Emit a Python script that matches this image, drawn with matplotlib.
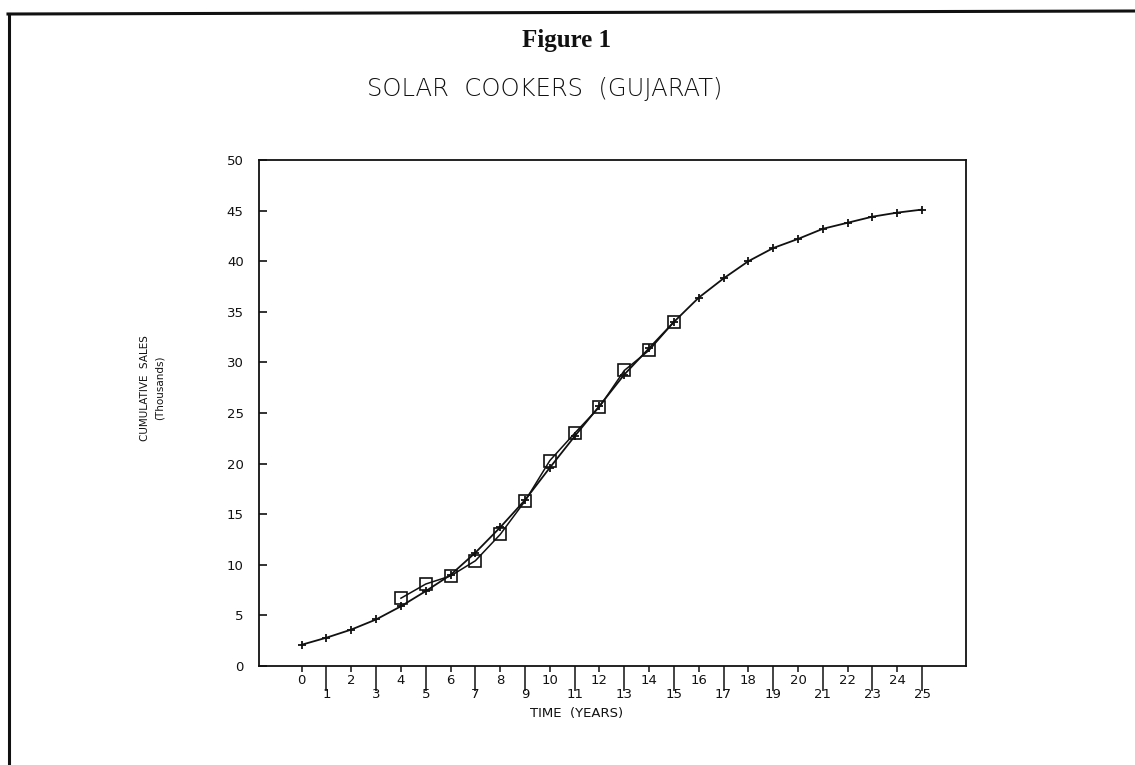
import matplotlib
matplotlib.use('Agg')
import matplotlib.pyplot as plt
from matplotlib.lines import Line2D

# ── DATA ─────────────────────────────────────────────────────────────────────
years_fit = list(range(0, 26))
sales_fit = [2.1, 2.8, 3.6, 4.6, 5.9, 7.4, 9.0, 11.2, 13.7, 16.4, 19.6, 22.7,
             25.7, 28.8, 31.4, 34.0, 36.4, 38.3, 40.0, 41.3, 42.2, 43.2, 43.8,
             44.4, 44.8, 45.1]

years_obs = list(range(4, 16))
sales_obs = [6.7, 8.1, 8.9, 10.4, 13.0, 16.3, 20.3, 23.0, 25.6, 29.2, 31.2, 34.0]

even_ticks = list(range(0, 26, 2))
odd_ticks = list(range(1, 26, 2))
y_ticks = list(range(0, 51, 5))

C_INK = "#111111"

plt.rcParams.update({
    "font.family": "DejaVu Sans",
    "text.color": C_INK,
    "axes.edgecolor": C_INK,
    "xtick.color": C_INK,
    "ytick.color": C_INK,
})

fig = plt.figure(figsize=(11.35, 7.65), dpi=100)
fig.patch.set_facecolor("white")

# ── page border (scanned page edge) ──────────────────────────────────────────
fig.add_artist(Line2D([8 / 1135, 1.0], [1 - 14 / 765, 1 - 11 / 765],
                      transform=fig.transFigure, color=C_INK, linewidth=2.2))
fig.add_artist(Line2D([9 / 1135, 9 / 1135], [1 - 14 / 765, 0.0],
                      transform=fig.transFigure, color=C_INK, linewidth=2.2))

fig.text(567 / 1135, 1 - 41 / 765, "Figure 1", family="Liberation Serif",
         fontweight="bold", fontsize=18, ha="center", va="center")
fig.text(545 / 1135, 1 - 89 / 765, "SOLAR  COOKERS  (GUJARAT)", fontsize=17.5,
         fontweight="light", ha="center", va="center")

# ── axes ─────────────────────────────────────────────────────────────────────
ax = fig.add_axes([259 / 1135, 1 - 666 / 765, 707 / 1135, 506 / 765])
ax.set_xlim(-1.72, 26.77)
ax.set_ylim(0, 50)

ax.plot(years_fit, sales_fit, color=C_INK, linewidth=1.3, marker="+",
        markersize=6, markeredgewidth=1.3)
ax.plot(years_obs, sales_obs, color=C_INK, linewidth=1.1, marker="s",
        markersize=8, markerfacecolor="none", markeredgewidth=1.2)

for side in ["top", "right", "left", "bottom"]:
    ax.spines[side].set_linewidth(1.3)

ax.set_yticks(y_ticks)
ax.tick_params(axis="y", direction="in", length=6, width=1.2, pad=11,
               labelsize=9.5)

ax.set_xticks(even_ticks)
ax.set_xticks(odd_ticks, minor=True)
ax.set_xticklabels([str(t) for t in even_ticks])
ax.set_xticklabels([str(t) for t in odd_ticks], minor=True)
ax.tick_params(axis="x", which="major", direction="out", length=4, width=1.1,
               pad=2, labelsize=9.5)
ax.tick_params(axis="x", which="minor", direction="out", length=18, width=1.1,
               pad=-2, labelsize=9.5)

fig.text(577 / 1135, 1 - 713 / 765, "TIME  (YEARS)", fontsize=9.5,
         ha="center", va="center")
fig.text(145 / 1135, 1 - 388 / 765, "CUMULATIVE  SALES", fontsize=7.5,
         rotation=90, ha="center", va="center")
fig.text(160 / 1135, 1 - 388 / 765, "(Thousands)", fontsize=7.5,
         rotation=90, ha="center", va="center")

plt.savefig("out.png", dpi=100, facecolor="white")
plt.close()
